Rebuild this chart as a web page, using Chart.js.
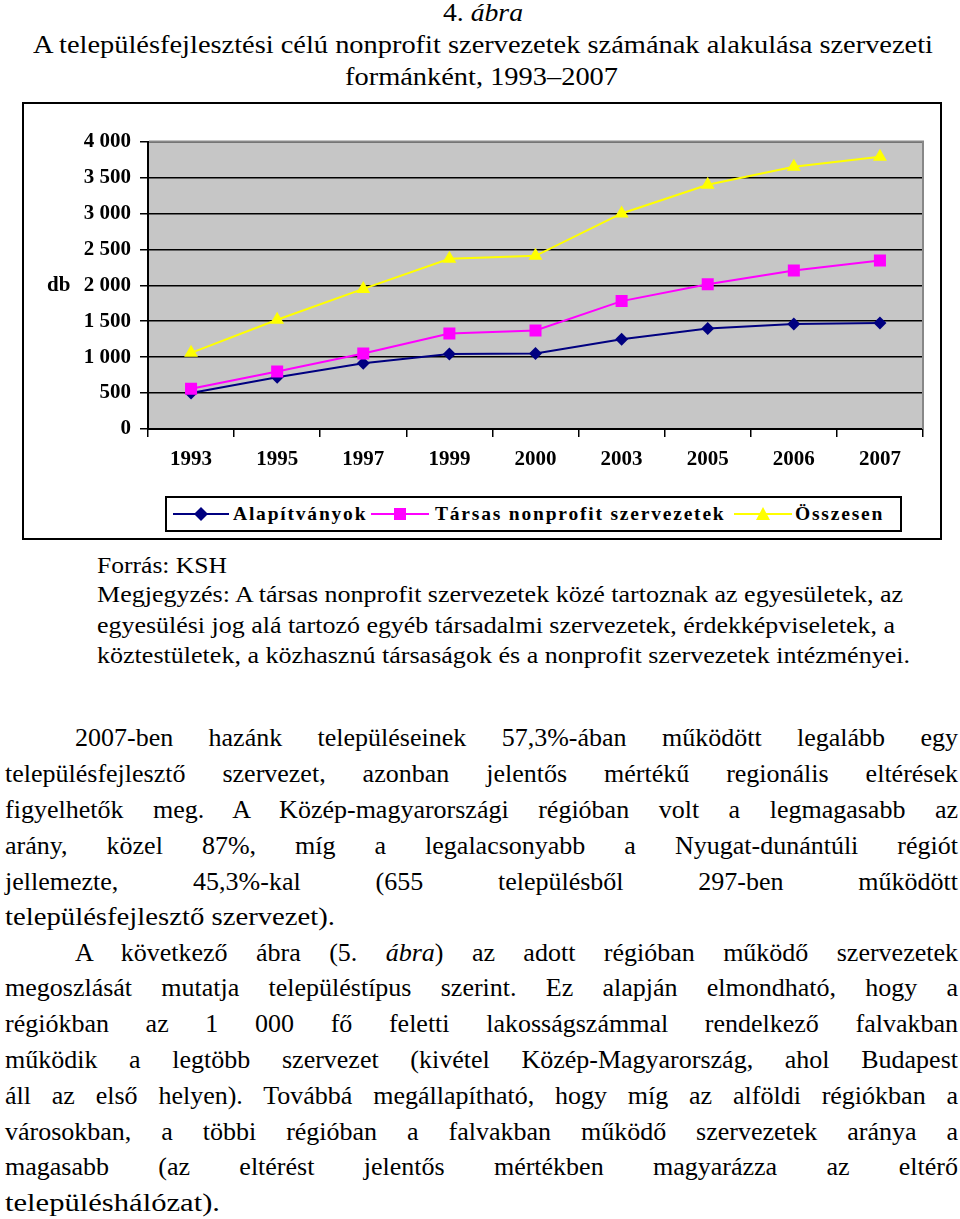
<!DOCTYPE html>
<html><head><meta charset="utf-8">
<script src="https://cdn.jsdelivr.net/npm/chart.js@4.4.1/dist/chart.umd.min.js"></script>
<style>
html,body{margin:0;padding:0;background:#fff;}
body{width:960px;height:1219px;position:relative;overflow:hidden;color:#000;font-family:"Liberation Serif","Times New Roman",serif;}
.ln{position:absolute;white-space:nowrap;transform-origin:0 50%;color:#000;font-family:"Liberation Serif","Times New Roman",serif;}
#frame{position:absolute;left:22px;top:102px;width:920px;height:438px;border:2px solid #000;box-sizing:border-box;}
#cv{position:absolute;left:0;top:120px;}
#legend{position:absolute;left:165px;top:496px;width:737px;height:36px;border:2px solid #000;box-sizing:border-box;font-weight:bold;font-size:19.5px;}
#legend .it{position:absolute;top:0;height:32px;line-height:32px;letter-spacing:1.8px;white-space:nowrap;}
#legend svg{position:absolute;top:8px;}
</style>
</head><body>
<div class="ln" data-w="80" style="left:443px;top:-3px;font-size:26px;line-height:32px">4. <i>ábra</i></div>
<div class="ln" data-w="900" style="left:33px;top:29px;font-size:26px;line-height:32px">A településfejlesztési célú nonprofit szervezetek számának alakulása szervezeti</div>
<div class="ln" data-w="273" style="left:345px;top:61px;font-size:26px;line-height:32px">formánként, 1993–2007</div>

<div id="frame"></div>
<canvas id="cv" width="940" height="360"></canvas>
<div id="legend">
  <svg style="left:6px" width="56" height="16"><line x1="0" y1="8" x2="56" y2="8" stroke="#000080" stroke-width="2"/><polygon points="28,1 35,8 28,15 21,8" fill="#000080"/></svg>
  <div class="it" id="lg0" style="left:66px"></div>
  <svg style="left:204px" width="58" height="16"><line x1="0" y1="8" x2="58" y2="8" stroke="#FF00FF" stroke-width="2"/><rect x="23" y="2" width="12" height="12" fill="#FF00FF"/></svg>
  <div class="it" id="lg1" style="left:268px"></div>
  <svg style="left:567px" width="58" height="16"><line x1="0" y1="8" x2="58" y2="8" stroke="#FFFF00" stroke-width="2"/><polygon points="29,1 36,14 22,14" fill="#FFFF00"/></svg>
  <div class="it" id="lg2" style="left:628px"></div>
</div>

<div class="ln" data-w="130" style="left:97px;top:550px;font-size:24px;line-height:30px">Forrás: KSH</div>
<div class="ln" data-w="806" style="left:97px;top:579px;font-size:24px;line-height:30px">Megjegyzés: A társas nonprofit szervezetek közé tartoznak az egyesületek, az</div>
<div class="ln" data-w="798" style="left:97px;top:610px;font-size:24px;line-height:30px">egyesülési jog alá tartozó egyéb társadalmi szervezetek, érdekképviseletek, a</div>
<div class="ln" data-w="813" style="left:97px;top:640px;font-size:24px;line-height:30px">köztestületek, a közhasznú társaságok és a nonprofit szervezetek intézményei.</div>

<div class="ln" data-w="883" data-j="1" style="left:75px;top:720px;font-size:26px;line-height:36px">2007-ben hazánk településeinek 57,3%-ában működött legalább egy</div>
<div class="ln" data-w="953" data-j="1" style="left:5px;top:756px;font-size:26px;line-height:36px">településfejlesztő szervezet, azonban jelentős mértékű regionális eltérések</div>
<div class="ln" data-w="953" data-j="1" style="left:5px;top:792px;font-size:26px;line-height:36px">figyelhetők meg. A Közép-magyarországi régióban volt a legmagasabb az</div>
<div class="ln" data-w="953" data-j="1" style="left:5px;top:828px;font-size:26px;line-height:36px">arány, közel 87%, míg a legalacsonyabb a Nyugat-dunántúli régiót</div>
<div class="ln" data-w="953" data-j="1" style="left:5px;top:864px;font-size:26px;line-height:36px">jellemezte, 45,3%-kal (655 településből 297-ben működött</div>
<div class="ln" data-w="330" style="left:5px;top:899px;font-size:26px;line-height:36px">településfejlesztő szervezet).</div>
<div class="ln" data-w="883" data-j="1" style="left:75px;top:935px;font-size:26px;line-height:36px">A következő ábra (5. <i>ábra</i>) az adott régióban működő szervezetek</div>
<div class="ln" data-w="953" data-j="1" style="left:5px;top:970px;font-size:26px;line-height:36px">megoszlását mutatja településtípus szerint. Ez alapján elmondható, hogy a</div>
<div class="ln" data-w="953" data-j="1" style="left:5px;top:1006px;font-size:26px;line-height:36px">régiókban az 1 000 fő feletti lakosságszámmal rendelkező falvakban</div>
<div class="ln" data-w="953" data-j="1" style="left:5px;top:1042px;font-size:26px;line-height:36px">működik a legtöbb szervezet (kivétel Közép-Magyarország, ahol Budapest</div>
<div class="ln" data-w="953" data-j="1" style="left:5px;top:1078px;font-size:26px;line-height:36px">áll az első helyen). Továbbá megállapítható, hogy míg az alföldi régiókban a</div>
<div class="ln" data-w="953" data-j="1" style="left:5px;top:1114px;font-size:26px;line-height:36px">városokban, a többi régióban a falvakban működő szervezetek aránya a</div>
<div class="ln" data-w="953" data-j="1" style="left:5px;top:1149px;font-size:26px;line-height:36px">magasabb (az eltérést jelentős mértékben magyarázza az eltérő</div>
<div class="ln" data-w="215" style="left:5px;top:1185px;font-size:26px;line-height:36px">településhálózat).</div>

<script>
const categories = ['1993','1995','1997','1999','2000','2003','2005','2006','2007'];
const alapitvanyok = [500, 720, 915, 1045, 1050, 1250, 1400, 1460, 1475];
const tarsas = [560, 800, 1050, 1330, 1370, 1780, 2015, 2205, 2345];
const osszesen = [1060, 1520, 1950, 2370, 2410, 3000, 3400, 3650, 3790];
const yTickLabels = ['0','500','1 000','1 500','2 000','2 500','3 000','3 500','4 000'];
const seriesNames = ['Alapítványok','Társas nonprofit szervezetek','Összesen'];
const yAxisUnit = 'db';

const serifFam = '"Liberation Serif", serif';

function fitLines(){
  document.querySelectorAll('.ln').forEach(el=>{
    const T = parseFloat(el.dataset.w);
    const w = el.getBoundingClientRect().width;
    if (el.dataset.j && w < T) {
      const spaces = (el.textContent.match(/ /g)||[]).length;
      if (spaces) el.style.wordSpacing = ((T - w)/spaces) + 'px';
    } else {
      el.style.transform = 'scaleX(' + (T/w) + ')';
    }
  });
}

document.getElementById('lg0').textContent = seriesNames[0];
document.getElementById('lg1').textContent = seriesNames[1];
document.getElementById('lg2').textContent = seriesNames[2];

const plotDecor = {
  id: 'plotDecor',
  beforeDraw(chart){
    const {ctx, chartArea:a} = chart;
    ctx.save();
    ctx.fillStyle = '#c6c6c6';
    ctx.fillRect(a.left, a.top, a.right - a.left, a.bottom - a.top);
    ctx.restore();
  },
  beforeDatasetsDraw(chart){
    const {ctx, chartArea:a} = chart;
    ctx.save();
    ctx.strokeStyle = '#888';
    ctx.lineWidth = 2;
    ctx.beginPath();
    ctx.moveTo(a.left+1, a.top);
    ctx.lineTo(a.right, a.top);
    ctx.lineTo(a.right, a.bottom);
    ctx.stroke();
    ctx.restore();
  },
  afterDraw(chart){
    const {ctx} = chart;
    const y = chart.scales.y.getPixelForValue(2000);
    ctx.save();
    ctx.font = 'bold 21px ' + serifFam;
    ctx.fillStyle = '#000';
    ctx.textBaseline = 'middle';
    ctx.textAlign = 'left';
    ctx.fillText(yAxisUnit, 47, y);
    ctx.restore();
  }
};

fitLines();
new Chart(document.getElementById('cv'), {
  type: 'line',
  data: {
    labels: categories,
    datasets: [
      {label: seriesNames[0], data: alapitvanyok, borderColor:'#000080', backgroundColor:'#000080', borderWidth:2,
       pointStyle:'rectRot', pointRadius:6.5, pointBorderWidth:0, order:3, tension:0},
      {label: seriesNames[1], data: tarsas, borderColor:'#FF00FF', backgroundColor:'#FF00FF', borderWidth:2,
       pointStyle:'rect', pointRadius:8.5, pointBorderWidth:0, order:2, tension:0},
      {label: seriesNames[2], data: osszesen, borderColor:'#FFFF00', backgroundColor:'#FFFF00', borderWidth:2,
       pointStyle:'triangle', pointRadius:8, pointBorderWidth:0, order:1, tension:0}
    ]
  },
  options: {
    responsive:false, animation:false, devicePixelRatio:1,
    layout:{padding:{top:21, right:17, left:0, bottom:0}},
    plugins:{legend:{display:false}, tooltip:{enabled:false}},
    scales:{
      x:{
        offset:true,
        grid:{offset:true, drawOnChartArea:false, drawTicks:true, tickLength:8, color:'#000', lineWidth:1.5},
        border:{color:'#000', width:2},
        ticks:{color:'#000', font:{family:serifFam, weight:'bold', size:21}, padding:10, maxRotation:0, autoSkip:false},
        afterFit(s){ s.height = 51; }
      },
      y:{
        min:0, max:4000,
        grid:{color:'#000', lineWidth:1.5, tickLength:8, drawTicks:true},
        border:{color:'#000', width:2},
        ticks:{stepSize:500, color:'#000', font:{family:serifFam, weight:'bold', size:21}, padding:9,
               callback:(v,i)=>yTickLabels[i]},
        afterFit(s){ s.width = 148; }
      }
    }
  },
  plugins:[plotDecor]
});
</script>
</body></html>
